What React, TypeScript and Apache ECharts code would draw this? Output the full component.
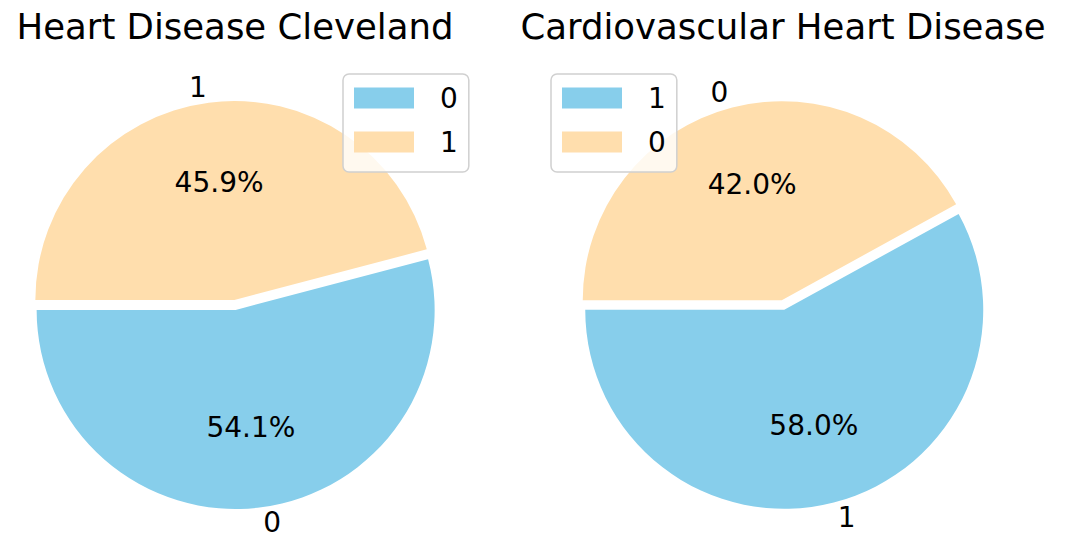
import React, { useEffect, useRef } from 'react';
import * as echarts from 'echarts';

const titles = ['Heart Disease Cleveland', 'Cardiovascular Heart Disease'];
const clevelandNames = ['0', '1'];
const clevelandValues = [54.1, 45.9];
const cardioNames = ['1', '0'];
const cardioValues = [58.0, 42.0];
const sliceColors = ['#87CEEB', '#FFDEAD'];

const FONT = 'DejaVu Sans';
const R = 199;
const OFFSET = 5;
const CENTERS: [number, number][] = [
  [235, 305],
  [783, 305],
];
const LEGEND_LEFT = [343, 551];

function buildSeries(idx: number, names: string[], values: number[]) {
  const total = values.reduce((a, b) => a + b, 0);
  let acc = 0;
  const center = CENTERS[idx];
  const common = {
    type: 'pie',
    center,
    startAngle: 180,
    clockwise: false,
    selectedMode: 'multiple',
    selectedOffset: OFFSET,
    avoidLabelOverlap: false,
    emphasis: { disabled: true },
    labelLine: { show: false },
  };
  const main = {
    ...common,
    name: 'pie' + idx,
    radius: R,
    label: { show: false },
    itemStyle: { borderWidth: 0 },
    data: names.map((n, i) => ({
      name: n,
      value: values[i],
      selected: true,
      itemStyle: { color: sliceColors[i] },
    })),
  };
  const pct = {
    ...common,
    name: 'pct' + idx,
    radius: [0, R * 1.165],
    silent: true,
    z: 3,
    itemStyle: { color: 'rgba(0,0,0,0)', borderWidth: 0 },
    label: {
      show: true,
      position: 'inside',
      rotate: 0,
      fontSize: 28,
      fontFamily: FONT,
      color: '#000',
      formatter: (p: any) => p.percent.toFixed(1) + '%',
    },
    data: names.map((n, i) => ({ name: n, value: values[i], selected: true })),
  };
  const outerData = names.map((n, i) => {
    const mid = 180 + ((acc + values[i] / 2) / total) * 360;
    acc += values[i];
    const leftSide = Math.cos((mid * Math.PI) / 180) < 0;
    return {
      name: n,
      value: values[i],
      selected: true,
      label: { padding: leftSide ? [0, 18, 0, 0] : [0, 0, 0, 18] },
    };
  });
  const outer = {
    ...common,
    name: 'outer' + idx,
    radius: [R, R * 1.125],
    silent: true,
    z: 3,
    itemStyle: { color: 'rgba(0,0,0,0)', borderWidth: 0 },
    label: {
      show: true,
      position: 'inside',
      rotate: 0,
      fontSize: 28,
      lineHeight: 20,
      fontFamily: FONT,
      color: '#000',
      formatter: '{b}',
    },
    data: outerData,
  };
  return [main, pct, outer];
}

function buildLegend(idx: number, names: string[]) {
  return {
    orient: 'vertical',
    left: LEGEND_LEFT[idx],
    top: 74,
    icon: 'rect',
    selectedMode: false,
    itemWidth: 60,
    itemHeight: 21,
    itemGap: 16,
    padding: [10, 11, 16, 11],
    borderColor: '#d0d0d0',
    borderWidth: 1.5,
    borderRadius: 6,
    backgroundColor: 'rgba(255,255,255,0.8)',
    textStyle: {
      fontSize: 28,
      fontFamily: FONT,
      color: '#000',
      lineHeight: 21,
      padding: [0, 0, 0, 21],
    },
    data: names.map((n, i) => ({ name: n, itemStyle: { color: sliceColors[i] } })),
  };
}

export default function App() {
  const ref = useRef<HTMLDivElement>(null);
  useEffect(() => {
    if (!ref.current) return;
    const chart = echarts.init(ref.current, null, { renderer: 'svg' });
    chart.setOption({
      animation: false,
      backgroundColor: '#fff',
      title: titles.map((t, i) => ({
        text: t,
        left: CENTERS[i][0],
        top: 8,
        textAlign: 'center',
        padding: 0,
        textStyle: {
          fontSize: 35.5,
          fontWeight: 'normal',
          fontFamily: FONT,
          color: '#000',
          lineHeight: 36,
        },
      })),
      legend: [buildLegend(0, clevelandNames), buildLegend(1, cardioNames)],
      series: [
        ...buildSeries(0, clevelandNames, clevelandValues),
        ...buildSeries(1, cardioNames, cardioValues),
      ],
    });
    return () => chart.dispose();
  }, []);
  return (
    <div
      ref={ref}
      style={{ position: 'absolute', left: 0, top: 0, width: 1065, height: 535 }}
    />
  );
}
